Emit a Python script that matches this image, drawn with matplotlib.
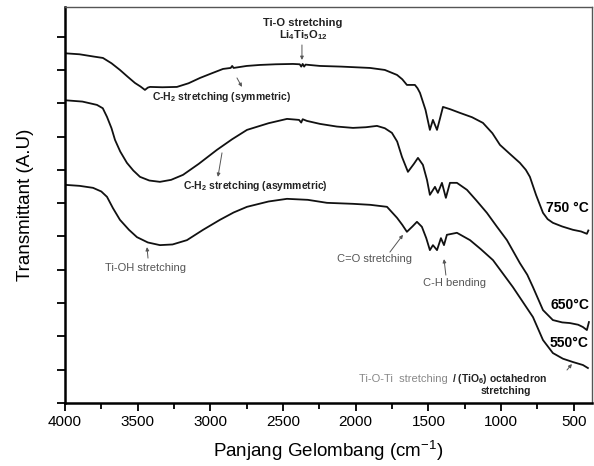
import matplotlib
matplotlib.use("Agg")
import matplotlib.pyplot as plt

plt.rcParams['font.family'] = ['Liberation Sans', 'DejaVu Sans']
plt.rcParams['mathtext.fontset'] = 'custom'
plt.rcParams['mathtext.rm'] = 'Liberation Sans'
plt.rcParams['mathtext.bf'] = 'Liberation Sans:bold'

# FTIR spectra (wavenumber cm-1, transmittance a.u.)
wn_750 = [4000, 3900, 3800, 3739, 3680, 3622, 3570, 3519, 3480, 3450, 3430, 3415,
          3330, 3230, 3150, 3071, 2990, 2913, 2860, 2850, 2840, 2750, 2659, 2550,
          2432, 2385, 2375, 2365, 2355, 2345, 2246, 2100, 1902, 1800, 1716, 1680,
          1648, 1593, 1575, 1558, 1520, 1490, 1469, 1441, 1420, 1400, 1350, 1283,
          1200, 1125, 1060, 1008, 940, 871, 830, 802, 760, 712, 680, 644, 580,
          506, 450, 410, 400]
tr_750 = [10.50, 10.47, 10.40, 10.36, 10.20, 10.00, 9.80, 9.61, 9.50, 9.40, 9.47, 9.49,
          9.48, 9.49, 9.60, 9.76, 9.90, 10.03, 10.06, 10.12, 10.06, 10.12, 10.15, 10.17,
          10.18, 10.17, 10.10, 10.18, 10.10, 10.16, 10.12, 10.10, 10.06, 10.00, 9.85, 9.72,
          9.55, 9.55, 9.45, 9.31, 8.80, 8.20, 8.50, 8.20, 8.55, 8.89, 8.82, 8.71,
          8.58, 8.41, 8.10, 7.75, 7.48, 7.21, 7.00, 6.79, 6.25, 5.71, 5.52, 5.41, 5.30,
          5.20, 5.15, 5.08, 5.18]

wn_650 = [4000, 3880, 3780, 3740, 3711, 3680, 3656, 3620, 3574, 3530, 3484, 3420,
          3347, 3270, 3188, 3080, 2955, 2850, 2748, 2600, 2473, 2390, 2375, 2365,
          2336, 2246, 2130, 2019, 1930, 1854, 1800, 1751, 1715, 1682, 1641, 1600,
          1572, 1538, 1510, 1490, 1455, 1435, 1407, 1380, 1352, 1304, 1235, 1170,
          1098, 1030, 960, 871, 820, 781, 712, 644, 580, 527, 470, 437, 410, 396]
tr_650 = [9.09, 9.05, 8.95, 8.85, 8.59, 8.25, 7.90, 7.55, 7.21, 6.98, 6.79, 6.68,
          6.64, 6.70, 6.85, 7.18, 7.60, 7.92, 8.20, 8.40, 8.53, 8.50, 8.42, 8.52,
          8.47, 8.38, 8.30, 8.26, 8.28, 8.32, 8.25, 8.11, 7.85, 7.39, 6.94, 7.18,
          7.36, 7.15, 6.70, 6.25, 6.49, 6.31, 6.61, 6.16, 6.61, 6.61, 6.40, 6.08,
          5.71, 5.30, 4.89, 4.20, 3.85, 3.48, 2.79, 2.49, 2.42, 2.40, 2.35, 2.28, 2.19, 2.43]

wn_550 = [4000, 3900, 3807, 3750, 3711, 3670, 3622, 3560, 3505, 3430, 3347, 3260,
          3161, 3050, 2934, 2840, 2748, 2600, 2473, 2330, 2198, 2019, 1900, 1785,
          1716, 1680, 1648, 1610, 1579, 1545, 1515, 1490, 1469, 1441, 1414, 1393,
          1373, 1304, 1214, 1140, 1056, 990, 919, 850, 781, 712, 644, 575, 506,
          437, 403]
tr_550 = [6.55, 6.52, 6.46, 6.35, 6.19, 5.85, 5.50, 5.20, 4.98, 4.82, 4.74, 4.76,
          4.89, 5.20, 5.50, 5.72, 5.89, 6.05, 6.13, 6.10, 6.01, 5.98, 5.95, 5.89,
          5.56, 5.35, 5.14, 5.30, 5.44, 5.29, 4.95, 4.59, 4.74, 4.59, 4.95, 4.74,
          5.05, 5.11, 4.89, 4.62, 4.29, 3.90, 3.48, 3.03, 2.58, 1.89, 1.50, 1.33, 1.23,
          1.14, 1.05]

x_ticks = [4000, 3500, 3000, 2500, 2000, 1500, 1000, 500]
x_minor = [3750, 3250, 2750, 2250, 1750, 1250, 750]
y_ticks = list(range(0, 12))

fig = plt.figure(figsize=(5.94, 4.66), dpi=100)
ax = fig.add_axes([0.1094, 0.1352, 0.8872, 0.8498])

for wn, tr in [(wn_750, tr_750), (wn_650, tr_650), (wn_550, tr_550)]:
    ax.plot(wn, tr, color='#111111', lw=1.3)

ax.set_xlim(4000, 375)
ax.set_ylim(0, 11.89)
ax.set_xticks(x_ticks)
ax.set_xticks(x_minor, minor=True)
ax.set_yticks(y_ticks)
ax.set_yticklabels([])
ax.tick_params(axis='x', which='major', direction='out', length=6, width=1.3, labelsize=11, pad=3)
ax.tick_params(axis='x', which='minor', direction='out', length=4, width=1.3)
ax.tick_params(axis='y', which='major', direction='out', length=6, width=1.3)
for side in ['left', 'bottom']:
    ax.spines[side].set_linewidth(1.8)
for side in ['top', 'right']:
    ax.spines[side].set_linewidth(1.0)
    ax.spines[side].set_color('#555555')

ax.set_xlabel('Panjang Gelombang (cm$^{-1}$)', fontsize=13.5, labelpad=6)
ax.set_ylabel('Transmittant (A.U)', fontsize=13.5, labelpad=13)

# temperature labels
for lab, yy in [('750 °C', 5.86), ('650°C', 2.94), ('550°C', 1.80)]:
    ax.text(396, yy, lab, ha='right', va='center', fontsize=10, fontweight='bold')

dark = '#222222'
grey = '#555555'
bsize = 7.5
gsize = 8

def arrow(x0, y0, x1, y1, c=grey):
    ax.annotate('', xy=(x1, y1), xytext=(x0, y0),
                arrowprops=dict(arrowstyle='-|>', color=c, lw=0.7,
                                mutation_scale=5, shrinkA=0, shrinkB=0))

ax.text(2363, 11.41, 'Ti-O stretching', ha='center', va='center', fontsize=8,
        fontweight='bold', color=dark)
ax.text(2363, 11.05, r'Li$_\mathbf{4}$Ti$_\mathbf{5}$O$_\mathbf{12}$', ha='center', va='center',
        fontsize=8, fontweight='bold', color=dark)
arrow(2370, 10.75, 2370, 10.30)

ax.text(2920, 9.19, r'C-H$_\mathbf{2}$ stretching (symmetric)', ha='center', va='center',
        fontsize=bsize, fontweight='bold', color=dark)
arrow(2817, 9.76, 2783, 9.49)

ax.text(2693, 6.52, r'C-H$_\mathbf{2}$ stretching (asymmetric)', ha='center', va='center',
        fontsize=bsize, fontweight='bold', color=dark)
arrow(2920, 7.51, 2948, 6.79)

ax.text(3443, 4.05, 'Ti-OH stretching', ha='center', va='center',
        fontsize=gsize, color=grey)
arrow(3429, 4.35, 3436, 4.68)

ax.text(1868, 4.32, 'C=O stretching', ha='center', va='center',
        fontsize=gsize, color=grey)
arrow(1765, 4.53, 1675, 5.05)

ax.text(1318, 3.60, 'C-H bending', ha='center', va='center',
        fontsize=gsize, color=grey)
arrow(1380, 3.84, 1393, 4.32)

ax.text(1345, 0.72, 'Ti-O-Ti  stretching ', ha='right', va='center',
        fontsize=gsize, color='#888888')
ax.text(1340, 0.72, r'/ (TiO$_\mathbf{6}$) octahedron', ha='left', va='center',
        fontsize=bsize, fontweight='bold', color=dark)
ax.text(967, 0.36, 'stretching', ha='center', va='center',
        fontsize=bsize, fontweight='bold', color=dark)
arrow(547, 0.99, 513, 1.17)

fig.savefig('out.png', dpi=100)
